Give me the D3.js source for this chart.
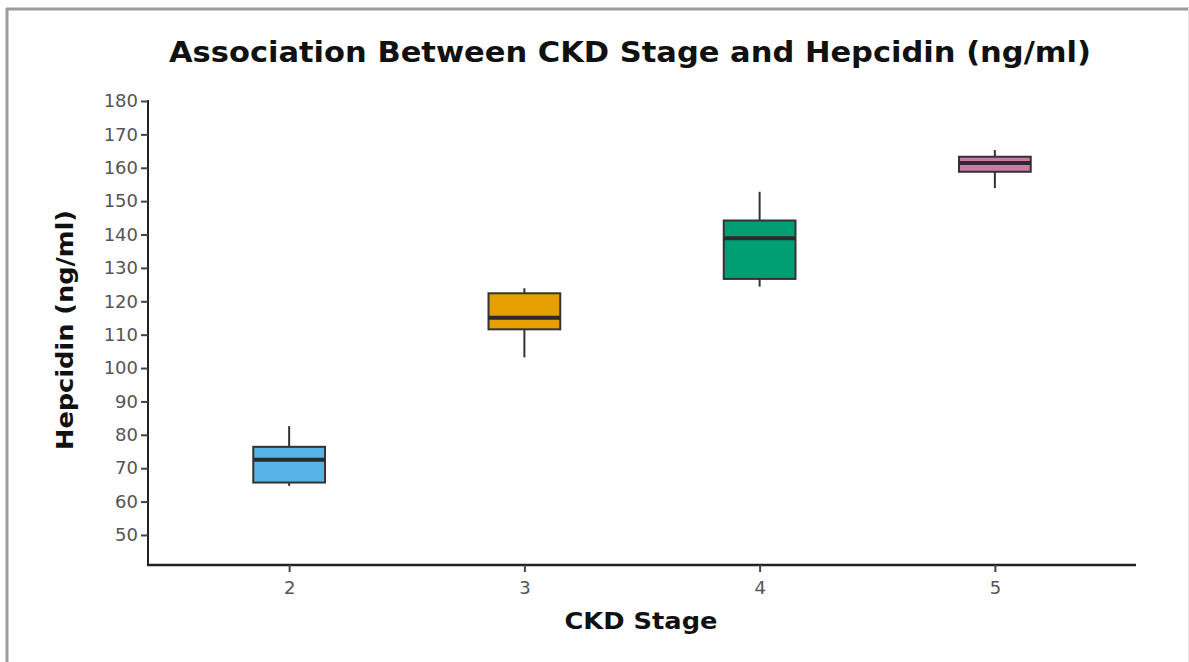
<!DOCTYPE html>
<html>
<head>
<meta charset="utf-8">
<script src="https://cdn.jsdelivr.net/npm/d3@7"></script>
<style>
  html, body { margin: 0; padding: 0; background: #fff; }
  svg { display: block; }
</style>
</head>
<body>
<svg id="chart" width="1189" height="662"></svg>
<script>
// ---- data ----
const stages = ["2", "3", "4", "5"];
const whiskerLow = [64.7, 103.2, 124.4, 153.9];
const q1 = [65.7, 111.6, 126.7, 158.8];
const median = [72.5, 115.1, 138.9, 161.4];
const q3 = [76.4, 122.4, 144.2, 163.3];
const whiskerHigh = [82.6, 123.9, 152.8, 165.3];
const fills = ["#56B4E9", "#E69F00", "#009E73", "#CC79A7"];
const yTicks = [50, 60, 70, 80, 90, 100, 110, 120, 130, 140, 150, 160, 170, 180];
const titleText = "Association Between CKD Stage and Hepcidin (ng/ml)";
const xLabel = "CKD Stage";
const yLabel = "Hepcidin (ng/ml)";

(function () {
const svg = d3.select("#chart");
const W = 1189, H = 662;

// frame
svg.append("line").attr("x1", 6).attr("x2", 1189).attr("y1", 9).attr("y2", 9)
  .attr("stroke", "#9b9b9b").attr("stroke-width", 3);
svg.append("line").attr("x1", 7).attr("x2", 7).attr("y1", 8).attr("y2", H)
  .attr("stroke", "#9b9b9b").attr("stroke-width", 3);
svg.append("line").attr("x1", 1188.5).attr("x2", 1188.5).attr("y1", 8).attr("y2", H)
  .attr("stroke", "#e6e6e6").attr("stroke-width", 1);

const pl = 148, pr = 1136, pt = 101, pb = 565;

const x = d3.scalePoint().domain(stages).range([pl, pr]).padding(0.6);
const y = d3.scaleLinear().domain([41, 180]).range([pb, pt]);
const boxW = x.step() * 0.305;

const data = stages.map((s, i) => ({
  s, lo: whiskerLow[i], q1: q1[i], med: median[i], q3: q3[i], hi: whiskerHigh[i], fill: fills[i]
}));

// axes
const yAxis = d3.axisLeft(y).tickValues(yTicks).tickSize(7).tickPadding(3).tickSizeOuter(0);
const gy = svg.append("g").attr("transform", `translate(${pl},0)`).call(yAxis);
gy.select(".domain").attr("d", `M0,${y(180) - 1}V${pb}`).attr("stroke", "#222").attr("stroke-width", 2);
gy.selectAll(".tick line").attr("stroke", "#444").attr("stroke-width", 2);
gy.selectAll(".tick text").attr("fill", "#555").attr("font-family", "DejaVu Sans, sans-serif").attr("font-size", 18);

const xAxis = d3.axisBottom(x).tickSize(7).tickPadding(9).tickSizeOuter(0);
const gx = svg.append("g").attr("transform", `translate(0,${pb})`).call(xAxis);
gx.select(".domain").attr("d", `M${pl - 1},0H${pr}`).attr("stroke", "#222").attr("stroke-width", 2.5);
gx.selectAll(".tick line").attr("stroke", "#444").attr("stroke-width", 2);
gx.selectAll(".tick text").attr("fill", "#555").attr("font-family", "DejaVu Sans, sans-serif").attr("font-size", 18);

// boxes
const g = svg.append("g");
const b = g.selectAll("g.box").data(data).join("g").attr("class", "box");
b.append("line").attr("x1", d => x(d.s)).attr("x2", d => x(d.s))
  .attr("y1", d => y(d.hi)).attr("y2", d => y(d.q3)).attr("stroke", "#333").attr("stroke-width", 2);
b.append("line").attr("x1", d => x(d.s)).attr("x2", d => x(d.s))
  .attr("y1", d => y(d.q1)).attr("y2", d => y(d.lo)).attr("stroke", "#333").attr("stroke-width", 2);
b.append("rect").attr("x", d => x(d.s) - boxW / 2).attr("width", boxW)
  .attr("y", d => y(d.q3)).attr("height", d => y(d.q1) - y(d.q3))
  .attr("fill", d => d.fill).attr("stroke", "#333").attr("stroke-width", 2);
b.append("line").attr("x1", d => x(d.s) - boxW / 2).attr("x2", d => x(d.s) + boxW / 2)
  .attr("y1", d => y(d.med)).attr("y2", d => y(d.med)).attr("stroke", "#2b2b2b").attr("stroke-width", 4);

// titles
svg.append("text").attr("x", 630).attr("y", 62).attr("text-anchor", "middle")
  .attr("font-family", "DejaVu Sans, sans-serif").attr("font-weight", "bold").attr("font-size", 28)
  .attr("textLength", 922).attr("lengthAdjust", "spacingAndGlyphs")
  .attr("fill", "#111").text(titleText);
svg.append("text").attr("x", 641).attr("y", 629).attr("text-anchor", "middle")
  .attr("font-family", "DejaVu Sans, sans-serif").attr("font-weight", "bold").attr("font-size", 23)
  .attr("textLength", 153).attr("lengthAdjust", "spacingAndGlyphs")
  .attr("fill", "#111").text(xLabel);
svg.append("text").attr("transform", "translate(73,330) rotate(-90)").attr("text-anchor", "middle")
  .attr("font-family", "DejaVu Sans, sans-serif").attr("font-weight", "bold").attr("font-size", 23)
  .attr("textLength", 240).attr("lengthAdjust", "spacingAndGlyphs")
  .attr("fill", "#111").text(yLabel);
})();
</script>
</body>
</html>
